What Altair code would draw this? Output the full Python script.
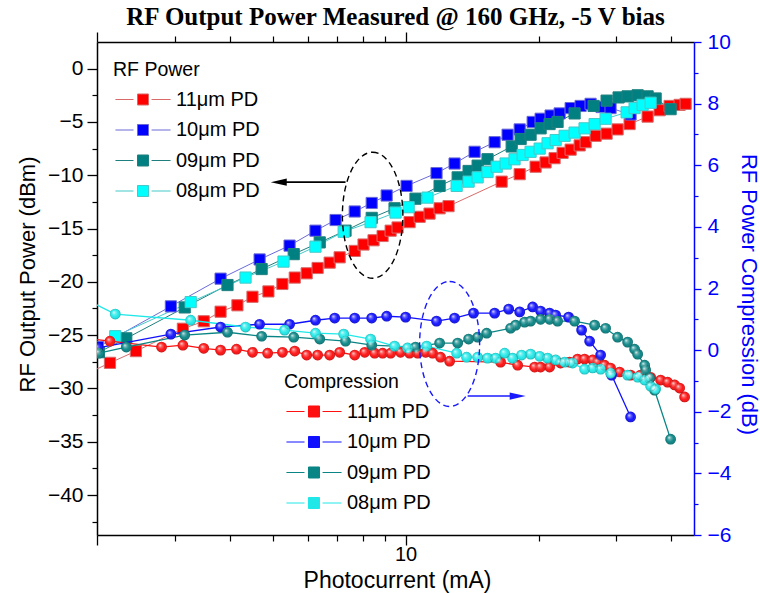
import altair as alt
import pandas as pd

FONT = "Liberation Sans"
SERIES = ["11μm PD", "10μm PD", "09μm PD", "08μm PD"]
SERIES_CP = [s + " " for s in SERIES]   # same text, kept apart from the RF legend
SQ_FILL = ["#ff0000", "#0000ff", "#008080", "#00ffff"]
RF_LINE = ["#d86a6a", "#6a6ad8", "#1f7f7f", "#45c9c9"]
CIRC_FILL = ["#ff1010", "#1010ff", "#0a8585", "#20e8e8"]

# ---- RF output power (dBm) vs photocurrent (mA) ----
rf11_I = [1.9, 2.14, 2.45, 3.13, 3.49, 3.81, 4.16, 4.50, 4.89, 5.26, 5.61, 5.97, 6.32, 6.73, 7.09, 7.67, 8.03, 8.46, 8.87, 9.25,
          9.59, 10.21, 10.76, 11.33, 11.94, 12.51, 16.50, 18.13, 19.70, 20.75, 21.75, 22.68, 23.65, 24.79, 25.57, 26.94, 28.53,
          30.21, 32.16, 35.33, 37.61, 39.63, 41.75, 43.08]
rf11_P = [-28.6, -27.6, -26.5, -24.4, -23.7, -22.8, -22.2, -21.4, -20.9, -20.2, -19.6, -19.2, -18.7, -18.2, -17.7, -17.1, -16.5,
          -16.1, -15.7, -15.2, -14.9, -14.4, -13.9, -13.6, -13.1, -12.9, -10.6, -9.9, -9.2, -8.8, -8.4, -7.9, -7.6, -7.2, -6.9,
          -6.3, -6.1, -5.7, -5.2, -4.5, -3.9, -3.5, -3.4, -3.3]
rf10_I = [2.01, 2.94, 3.81, 4.67, 5.46, 6.25, 6.94, 7.67, 8.38, 9.06, 10.05, 11.75, 12.91, 14.33, 15.91, 17.02, 18.13, 19.40,
          20.22, 21.30, 22.33, 23.65, 24.91, 26.24, 27.79, 29.12, 32.33]
rf10_P = [-26.1, -22.3, -19.7, -17.9, -16.6, -15.2, -14.2, -13.4, -12.6, -11.9, -11.0, -9.8, -8.9, -7.8, -6.9, -6.2, -5.7, -5.0,
          -4.7, -4.4, -4.2, -3.7, -3.5, -3.3, -3.6, -3.7, -4.3]
rf09_I = [2.02, 2.33, 3.16, 3.95, 4.72, 5.58, 6.39, 7.31, 8.38, 9.44, 10.53, 11.94, 13.12, 13.89, 14.56, 15.33, 17.39, 18.22,
          19.19, 20.22, 21.19, 22.09, 24.14, 26.66, 28.53, 30.37, 31.83, 33.54, 35.33, 36.84, 39.83]
rf09_P = [-26.6, -25.3, -22.4, -20.3, -18.8, -17.4, -16.3, -15.2, -14.0, -13.1, -12.2, -11.0, -10.2, -9.6, -9.1, -8.5, -7.3,
          -6.6, -6.2, -5.6, -5.2, -5.0, -4.2, -3.5, -3.0, -2.7, -2.6, -2.5, -2.6, -2.8, -3.8]
rf08_I = [2.20, 3.26, 4.34, 5.29, 6.25, 7.24, 8.33, 9.49, 10.16, 11.21, 13.05, 13.89, 14.56, 15.33, 16.08, 16.85, 17.65, 18.41,
          19.19, 20.12, 20.97, 21.87, 22.92, 24.14, 25.43, 26.80, 28.38, 31.67, 33.01, 34.42, 35.89]
rf08_P = [-25.1, -21.9, -19.6, -18.1, -16.7, -15.3, -14.4, -13.5, -13.0, -12.1, -11.0, -10.6, -10.2, -9.7, -9.2, -8.9, -8.5,
          -8.1, -7.8, -7.5, -7.0, -6.7, -6.3, -6.0, -5.6, -5.2, -4.7, -4.1, -3.7, -3.4, -3.2]

# ---- RF power compression (dB) vs photocurrent (mA) ----
cp11_I = [1.9, 2.14, 2.80, 3.13, 3.49, 3.81, 4.14, 4.50, 4.87, 5.26, 5.61, 5.97, 6.32, 6.73, 7.09, 7.67, 8.08, 8.51, 8.87, 9.25,
          9.74, 10.21, 10.65, 11.10, 11.51, 12.00, 12.58, 16.41, 17.94, 19.60, 20.22, 21.19, 22.44, 23.52, 24.52, 25.43, 26.53,
          27.23, 28.23, 29.12, 30.53, 32.33, 34.06, 35.89, 37.81, 39.22, 40.68, 41.75, 42.85]
cp11_C = [0.38, 0.29, 0.10, 0.16, 0.06, 0.0, 0.03, -0.07, -0.10, -0.07, -0.03, -0.16, -0.16, -0.16, -0.07, -0.16, -0.07, -0.10,
          -0.10, -0.10, -0.07, -0.10, -0.10, -0.07, -0.10, -0.23, -0.36, -0.39, -0.49, -0.55, -0.55, -0.55, -0.42, -0.39, -0.29,
          -0.29, -0.32, -0.39, -0.49, -0.58, -0.71, -0.81, -0.81, -0.88, -0.97, -1.04, -1.13, -1.23, -1.52]
cp10_I = [2.01, 2.94, 3.81, 4.67, 5.46, 6.25, 6.91, 7.67, 8.38, 9.06, 10.0, 11.75, 12.91, 14.25, 15.91, 17.12, 18.13, 19.40,
          20.22, 21.19, 21.87, 23.40, 25.04, 26.11, 27.65, 29.28, 32.33]
cp10_C = [0.07, 0.52, 0.75, 0.84, 0.84, 0.97, 1.04, 1.04, 1.04, 1.10, 1.07, 0.94, 1.04, 1.20, 1.20, 1.33, 1.24, 1.40, 1.27,
          1.20, 1.14, 1.07, 0.65, 0.29, -0.16, -0.81, -2.17]
cp09_I = [2.02, 2.33, 3.16, 3.95, 4.72, 5.58, 6.39, 7.31, 8.38, 10.53, 11.94, 13.12, 13.89, 14.56, 15.26, 17.29, 17.75, 18.60,
          19.19, 20.22, 21.19, 22.09, 24.14, 26.80, 28.38, 30.21, 31.83, 33.01, 33.54, 34.79, 34.97, 35.70, 36.64, 39.83]
cp09_C = [-0.10, 0.10, 0.49, 0.58, 0.45, 0.42, 0.36, 0.29, 0.16, 0.10, 0.23, 0.23, 0.36, 0.42, 0.55, 0.71, 0.81, 0.91, 0.94,
          1.0, 1.0, 0.94, 0.94, 0.81, 0.71, 0.42, 0.26, 0.03, -0.13, -0.49, -0.65, -0.91, -1.30, -2.89]
cp08_I = [1.9, 2.20, 3.26, 4.34, 5.32, 6.25, 7.24, 8.33, 9.44, 10.1, 11.16, 13.05, 13.74, 14.56, 15.33, 15.99, 16.76, 17.47,
          18.31, 19.19, 20.12, 20.97, 21.87, 22.92, 23.89, 25.43, 26.53, 27.65, 29.12, 31.83, 33.54, 34.79, 35.89, 36.84]
cp08_C = [1.62, 1.17, 0.97, 0.75, 0.65, 0.55, 0.52, 0.36, 0.13, 0.07, 0.13, -0.10, -0.23, -0.23, -0.26, -0.26, -0.10, -0.26,
          -0.16, -0.13, -0.20, -0.26, -0.32, -0.39, -0.42, -0.62, -0.58, -0.62, -0.75, -0.81, -0.88, -0.97, -1.17, -1.26]

# ---- annotation anchors (data units) ----
ell_rf_at = [8.42, -13.75]          # black dashed ellipse (I, dBm)
arr_rf = [7.31, 5.16, -10.65]       # black arrow: from I, to I, level dBm
ell_cp_at = [12.58, 0.2]            # blue dashed ellipse (I, dB)
arr_cp = [13.82, 17.94, -1.49]      # blue arrow: from I, to I, level dB

rf_sets = [(rf11_I, rf11_P), (rf10_I, rf10_P), (rf09_I, rf09_P), (rf08_I, rf08_P)]
cp_sets = [(cp11_I, cp11_C), (cp10_I, cp10_C), (cp09_I, cp09_C), (cp08_I, cp08_C)]
df_rf = pd.concat([pd.DataFrame({"I": i, "P": p, "series": s}) for (i, p), s in zip(rf_sets, SERIES)], ignore_index=True)
df_cp = pd.concat([pd.DataFrame({"I": i, "C": c, "series": s}) for (i, c), s in zip(cp_sets, SERIES_CP)],
                  ignore_index=True)

XS = alt.Scale(type="log", domain=[2, 45], nice=False)
YL = alt.Scale(domain=[-43.75, 2.5], nice=False, zero=False)
YR = alt.Scale(domain=[-6, 10], nice=False, zero=False)
BLUE = "#0000ff"

AX_BOT = alt.Axis(orient="bottom", values=[2, 10], labelExpr="datum.value == 10 ? '10' : ''", tickSize=10, tickWidth=1.3,
                  tickColor="black", domainColor="black", domainWidth=1.5, labelFont=FONT, labelFontSize=20,
                  labelColor="black", labelPadding=-1, labelFlush=False, labelOverlap=False, title="Photocurrent (mA)",
                  titleFont=FONT, titleFontSize=23, titleFontWeight="normal", titleColor="black", titleX=300, titleY=45,
                  titleBaseline="middle", titleAlign="center", grid=False)
AX_TOP = alt.Axis(orient="top", values=[2, 10], labels=False, tickSize=10, tickWidth=1.3, tickColor="black",
                  domainColor="black", domainWidth=1.5, title=None, grid=False)
AX_LEFT = alt.Axis(orient="left", values=[-40, -35, -30, -25, -20, -15, -10, -5, 0], tickSize=10, tickWidth=1.3,
                   tickColor="black", domainColor="black", domainWidth=1.5, labelFont=FONT, labelFontSize=21,
                   labelColor="black", labelPadding=4, labelFlush=False, labelOverlap=False,
                   title="RF Output Power (dBm)", titleFont=FONT, titleFontSize=22, titleFontWeight="normal",
                   titleColor="black", titleX=-70, titleY=232, titleBaseline="middle", titleAlign="center", grid=False)
AX_RIGHT = alt.Axis(orient="right", values=[-6, -4, -2, 0, 2, 4, 6, 8, 10], tickSize=7, tickWidth=1.3, tickColor=BLUE,
                    domainColor=BLUE, domainWidth=1.5, labelFont=FONT, labelFontSize=21, labelColor=BLUE,
                    labelPadding=6, labelFlush=False, labelOverlap=False, title="RF Power Compression (dB)",
                    titleFont=FONT, titleFontSize=22, titleFontWeight="normal", titleColor=BLUE, titleX=54, titleY=252,
                    titleAngle=90, titleBaseline="middle", titleAlign="center", grid=False)
AX_BOT_MINOR = alt.Axis(orient="bottom", values=[3, 4, 5, 6, 7, 8, 9, 20, 30, 40], labels=False, domain=False,
                        tickSize=6, tickWidth=1.2, tickColor="black", title=None, grid=False)
AX_TOP_MINOR = alt.Axis(orient="top", values=[3, 4, 5, 6, 7, 8, 9, 20, 30, 40], labels=False, domain=False,
                        tickSize=6, tickWidth=1.2, tickColor="black", title=None, grid=False)
AX_LEFT_MINOR = alt.Axis(orient="left", values=[-42.5, -37.5, -32.5, -27.5, -22.5, -17.5, -12.5, -7.5, -2.5],
                         labels=False, domain=False, tickSize=5, tickWidth=1.2, tickColor="black", title=None, grid=False)
AX_RIGHT_MINOR = alt.Axis(orient="right", values=[-5, -3, -1, 1, 3, 5, 7, 9], labels=False, domain=False,
                          tickSize=4, tickWidth=1.2, tickColor=BLUE, title=None, grid=False)

# legend glyph: line - square - line, wider than the nominal symbol box
SYM = "M-2.9,0H-1M0.9,0H2.9M-0.58,-0.58H0.58V0.58H-0.58Z"
ELLIPSE = ("M0,-1C0.265,-1,0.48,-0.552,0.48,0C0.48,0.552,0.265,1,0,1"
           "C-0.265,1,-0.48,0.552,-0.48,0C-0.48,-0.552,-0.265,-1,0,-1Z")


def legend(title, x, y):
    return alt.Legend(title=title, orient="none", legendX=x, legendY=y, symbolType=SYM, symbolSize=361,
                      symbolOffset=20, symbolStrokeWidth=1, labelFont=FONT, labelFontSize=20, labelColor="black",
                      titleFont=FONT, titleFontSize=19.5, titleFontWeight="normal", titleColor="black",
                      titlePadding=9, rowPadding=10.5, labelOffset=23, padding=0)


LEG_RF = legend("RF Power", 16, 19)
LEG_CP = legend("Compression", 187, 331)

RF_FILL = alt.Scale(domain=SERIES, range=SQ_FILL)
RF_STROKE = alt.Scale(domain=SERIES, range=RF_LINE)
CP_COLOR = alt.Scale(domain=SERIES_CP, range=CIRC_FILL)

xr = alt.X("I:Q", scale=XS, axis=AX_BOT)
yr = alt.Y("P:Q", scale=YL, axis=AX_LEFT)
xc = alt.X("I:Q", scale=XS, axis=AX_TOP)
yc = alt.Y("C:Q", scale=YR, axis=AX_RIGHT)

rf_line = alt.Chart(df_rf).mark_line(strokeWidth=1, clip=True).encode(
    x=xr, y=yr, stroke=alt.Stroke("series:N", scale=RF_STROKE, legend=LEG_RF))
rf_pts = alt.Chart(df_rf).mark_point(shape="square", filled=True, size=125, strokeWidth=1, opacity=1, clip=True).encode(
    x=xr, y=yr,
    fill=alt.Fill("series:N", scale=RF_FILL, legend=LEG_RF),
    stroke=alt.Stroke("series:N", scale=RF_STROKE, legend=LEG_RF))

ann_rf_e = alt.Chart(pd.DataFrame({"I": [ell_rf_at[0]], "P": [ell_rf_at[1]]})).mark_point(
    shape=ELLIPSE, size=15876, filled=False, stroke="black", strokeWidth=1.4, strokeDash=[6, 4], opacity=1
).encode(x=xr, y=yr)
ann_rf_l = alt.Chart(pd.DataFrame({"I": [arr_rf[0]], "I2": [arr_rf[1]], "P": [arr_rf[2]]})).mark_rule(
    color="black", strokeWidth=1.6).encode(x=xr, x2="I2:Q", y=yr)
ann_rf_h = alt.Chart(pd.DataFrame({"I": [arr_rf[1]], "P": [arr_rf[2]]})).mark_point(
    shape="M-1,0L1,-0.45L1,0.45Z", size=256, filled=True, color="black", opacity=1).encode(x=xr, y=yr)

RF = alt.layer(rf_line, rf_pts, ann_rf_e, ann_rf_l, ann_rf_h)

HILITE = {"gradient": "radial", "x1": 0.35, "y1": 0.32, "r1": 0.0, "x2": 0.5, "y2": 0.5, "r2": 0.5,
          "stops": [{"offset": 0, "color": "rgba(255,255,255,0.95)"},
                    {"offset": 0.3, "color": "rgba(255,255,255,0.35)"},
                    {"offset": 0.7, "color": "rgba(255,255,255,0)"},
                    {"offset": 1, "color": "rgba(0,0,0,0.3)"}]}

cp_line = alt.Chart(df_cp).mark_line(strokeWidth=1.3, clip=True).encode(
    x=xc, y=yc, color=alt.Color("series:N", scale=CP_COLOR, legend=LEG_CP))
cp_pts = alt.Chart(df_cp).mark_point(shape="circle", filled=True, size=115, opacity=1, clip=True).encode(
    x=xc, y=yc, color=alt.Color("series:N", scale=CP_COLOR, legend=LEG_CP))
cp_hi = alt.Chart(df_cp).mark_point(shape="circle", filled=True, size=115, fill=HILITE, strokeWidth=0, opacity=1,
                                    clip=True).encode(x=xc, y=yc)
ann_cp_e = alt.Chart(pd.DataFrame({"I": [ell_cp_at[0]], "C": [ell_cp_at[1]]})).mark_point(
    shape=ELLIPSE, size=15625, filled=False, stroke="#1a1aff", strokeWidth=1.4, strokeDash=[6, 4], opacity=1
).encode(x=xc, y=yc)
ann_cp_l = alt.Chart(pd.DataFrame({"I": [arr_cp[0]], "I2": [arr_cp[1]], "C": [arr_cp[2]]})).mark_rule(
    color="#1a1aff", strokeWidth=1.6).encode(x=xc, x2="I2:Q", y=yc)
ann_cp_h = alt.Chart(pd.DataFrame({"I": [arr_cp[1]], "C": [arr_cp[2]]})).mark_point(
    shape="M1,0L-1,-0.45L-1,0.45Z", size=256, filled=True, color="#1a1aff", opacity=1).encode(x=xc, y=yc)

COMP = alt.layer(cp_line, cp_pts, cp_hi, ann_cp_e, ann_cp_l, ann_cp_h)

minor_l = alt.Chart(df_rf.head(1)).mark_point(opacity=0).encode(
    x=alt.X("I:Q", scale=XS, axis=AX_BOT_MINOR), y=alt.Y("P:Q", scale=YL, axis=AX_LEFT_MINOR))
minor_r = alt.Chart(df_cp.head(1)).mark_point(opacity=0).encode(
    x=alt.X("I:Q", scale=XS, axis=AX_TOP_MINOR), y=alt.Y("C:Q", scale=YR, axis=AX_RIGHT_MINOR))

chart = alt.layer(RF, COMP, minor_l, minor_r).resolve_scale(
    y="independent"
).resolve_axis(x="independent", y="independent").properties(
    width=597, height=493,
    padding={"left": 97, "top": 42, "right": 66, "bottom": 58},
    autosize=alt.AutoSizeParams(type="none"),
    title=alt.TitleParams("RF Output Power Measured @ 160 GHz, -5 V bias", font="Liberation Serif", fontSize=25,
                          fontWeight="bold", anchor="middle", color="black", offset=1),
).configure_view(stroke=None).configure(background="white")

chart.save("out.html", embed_options={"renderer": "svg", "actions": False})
